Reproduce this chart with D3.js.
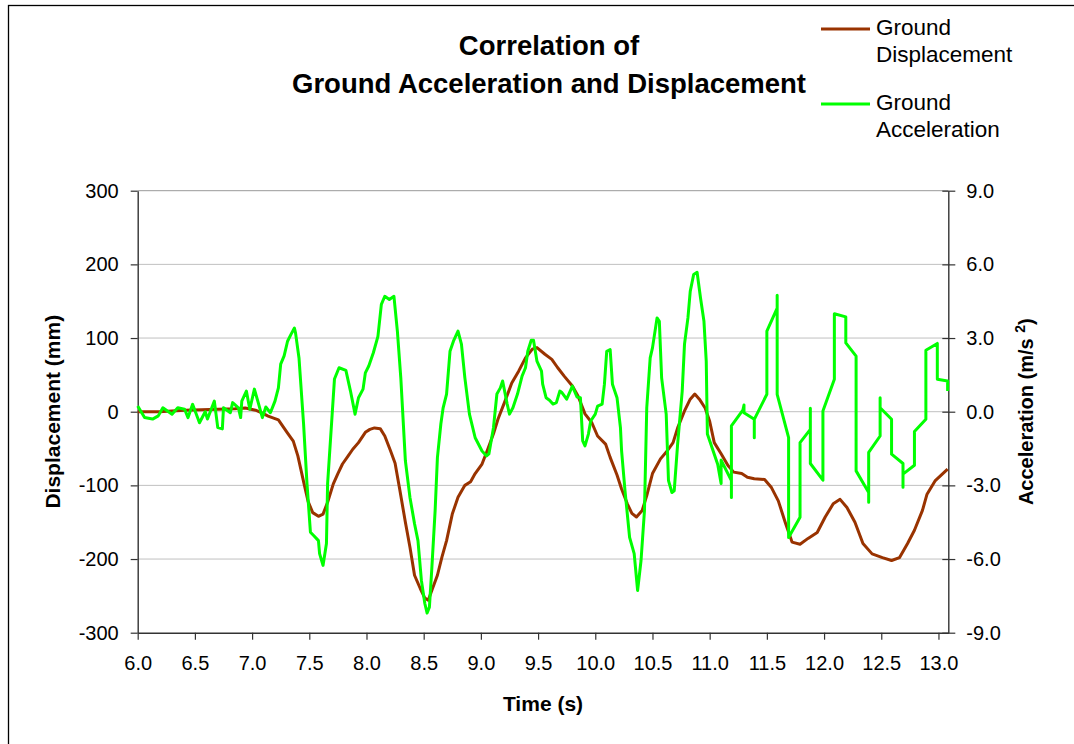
<!DOCTYPE html>
<html>
<head>
<meta charset="utf-8">
<script src="https://cdn.jsdelivr.net/npm/d3@7.9.0/dist/d3.min.js"></script>
<style>
  html, body { margin: 0; padding: 0; background: #fff; }
  svg { display: block; font-family: "Liberation Sans", Arial, sans-serif; }
  .axis text { font-size: 20px; fill: #000; }
</style>
</head>
<body>
<svg id="chart" width="1074" height="744"></svg>
<script>
// Ground displacement (mm)
const dispTime = [6.00,6.19,6.41,6.63,6.85,6.94,7.03,7.09,7.14,7.23,7.31,7.36,7.40,7.45,7.49,7.53,7.58,7.62,7.66,7.71,
  7.75,7.79,7.84,7.88,7.93,7.99,8.03,8.07,8.12,8.16,8.21,8.25,8.29,8.34,8.38,8.42,8.47,8.51,8.54,8.57,
  8.62,8.66,8.70,8.75,8.80,8.86,8.91,8.95,9.01,9.06,9.11,9.15,9.21,9.27,9.33,9.39,9.45,9.49,9.56,9.62,
  9.67,9.73,9.80,9.85,9.91,9.97,10.02,10.09,10.13,10.19,10.23,10.28,10.32,10.36,10.41,10.45,10.50,10.57,10.63,10.68,
  10.72,10.78,10.83,10.87,10.91,10.96,11.00,11.04,11.10,11.16,11.21,11.28,11.33,11.39,11.48,11.54,11.60,11.66,11.72,11.79,
  11.86,11.94,12.01,12.08,12.14,12.20,12.27,12.34,12.42,12.51,12.59,12.66,12.73,12.79,12.86,12.90,12.97,13.08];
const dispMM = [0,0,2,3,4,5,2,-2,-6,-11,-29,-40,-60,-95,-122,-137,-142,-139,-123,-98,
  -84,-71,-60,-51,-42,-28,-24,-22,-23,-33,-53,-70,-105,-150,-184,-222,-240,-253,-256,-243,
  -222,-197,-175,-139,-116,-100,-95,-84,-71,-51,-30,-10,14,39,55,73,85,87,78,71,
  60,48,35,21,-3,-15,-33,-44,-62,-86,-105,-125,-138,-143,-134,-114,-84,-64,-53,-42,
  -22,1,17,24,17,5,-13,-42,-57,-73,-82,-84,-89,-91,-92,-103,-121,-150,-177,-180,
  -172,-164,-143,-125,-119,-130,-150,-179,-193,-198,-202,-198,-179,-161,-134,-112,-94,-78];

// Ground acceleration (m/s2)
const accTime = [6.00,6.06,6.13,6.18,6.22,6.30,6.35,6.41,6.44,6.48,6.54,6.59,6.61,6.67,6.70,6.74,6.75,6.81,6.83,6.88,
  6.90,6.91,6.95,6.98,7.02,7.05,7.09,7.12,7.16,7.20,7.23,7.25,7.28,7.31,7.34,7.37,7.38,7.41,7.45,7.48,
  7.51,7.54,7.58,7.59,7.62,7.65,7.66,7.70,7.72,7.76,7.82,7.86,7.90,7.93,7.97,7.99,8.02,8.06,8.10,8.13,
  8.16,8.20,8.24,8.27,8.30,8.34,8.38,8.42,8.45,8.48,8.51,8.53,8.55,8.57,8.60,8.62,8.65,8.67,8.70,8.73,
  8.76,8.80,8.83,8.86,8.90,8.95,9.01,9.05,9.07,9.11,9.14,9.17,9.19,9.23,9.25,9.28,9.32,9.36,9.39,9.41,
  9.44,9.46,9.49,9.53,9.54,9.57,9.60,9.63,9.66,9.69,9.71,9.75,9.80,9.84,9.87,9.89,9.91,9.94,9.96,10.00,
  10.02,10.06,10.08,10.10,10.13,10.15,10.19,10.22,10.23,10.26,10.30,10.34,10.37,10.40,10.43,10.45,10.48,10.50,10.54,10.56,
  10.58,10.62,10.64,10.67,10.69,10.72,10.76,10.78,10.81,10.83,10.86,10.89,10.92,10.95,10.97,10.98,11.07,11.10,11.10,11.19,
  11.19,11.19,11.29,11.30,11.30,11.39,11.39,11.39,11.50,11.50,11.59,11.59,11.59,11.69,11.69,11.79,11.79,11.88,11.88,11.88,
  11.99,11.99,12.09,12.09,12.19,12.19,12.28,12.28,12.39,12.39,12.39,12.49,12.49,12.49,12.59,12.59,12.69,12.69,12.69,12.79,
  12.79,12.89,12.89,12.99,12.99,13.08,13.08];
const accMS2 = [0.23,-0.24,-0.30,-0.17,0.16,-0.10,0.16,0.10,-0.24,0.30,-0.45,0.00,-0.30,0.43,-0.65,-0.70,0.16,-0.04,0.37,0.16,
  -0.24,0.43,0.84,0.10,0.92,0.43,-0.24,0.19,-0.04,0.43,0.97,1.94,2.27,2.87,3.15,3.41,3.20,2.19,-0.50,-2.94,
  -4.91,-5.05,-5.25,-5.78,-6.26,-5.37,-2.94,-0.10,1.33,1.79,1.68,0.84,-0.10,0.57,0.92,1.58,1.86,2.40,3.07,4.37,
  4.70,4.57,4.70,3.28,1.38,-2.00,-3.49,-4.56,-5.25,-6.87,-7.81,-8.20,-7.96,-6.47,-4.03,-1.87,-0.50,0.16,0.72,2.46,
  2.87,3.28,2.75,1.38,-0.10,-1.06,-1.60,-1.80,-1.72,-0.65,0.72,0.97,1.25,0.31,-0.10,0.16,0.72,1.45,1.79,2.46,
  2.91,2.91,2.06,1.65,1.12,0.57,0.47,0.31,0.37,0.84,0.77,0.51,1.04,0.60,0.57,-1.19,-1.39,-0.91,-0.38,-0.10,
  0.23,0.31,1.12,2.46,2.53,1.12,0.57,-0.65,-1.60,-3.22,-5.12,-5.78,-7.28,-6.06,-4.03,0.16,2.19,2.60,3.82,3.68,
  1.38,-0.10,-2.81,-3.29,-3.22,-1.31,0.84,2.75,3.82,4.90,5.59,5.68,4.63,3.68,2.06,-0.91,-2.14,-2.92,-1.97,-2.81,
  -3.49,-0.58,0.06,0.27,-0.04,-0.31,-1.06,-0.31,0.71,3.28,4.22,4.74,0.71,-1.06,-5.12,-4.30,-1.26,-0.72,0.14,-2.11,
  -2.79,0.03,1.32,3.99,3.86,2.80,2.26,-2.41,-3.29,-3.69,-1.66,-0.99,0.57,0.16,-0.31,-1.73,-2.11,-3.08,-2.54,-2.18,
  -0.81,-0.31,2.50,2.78,1.32,1.25,0.84];

// axis ticks
const timeTicks = d3.range(6, 13.01, 0.5);
const dispTicks = [-300, -200, -100, 0, 100, 200, 300];
const accTicks = [-9, -6, -3, 0, 3, 6, 9];

const seriesNames = ["Ground Displacement", "Ground Acceleration"];
const colors = ["#993300", "#00ff00"];

const svg = d3.select('#chart');

// plot area
const plotLeft = 137.7, plotRight = 948.3, plotTop = 190.7, plotBottom = 632.7;

const x = d3.scaleLinear().domain([6, 13.086]).range([plotLeft, plotRight]);
const yL = d3.scaleLinear().domain([-300, 300]).range([plotBottom, plotTop]);
const yR = d3.scaleLinear().domain([-9, 9]).range([plotBottom, plotTop]);

// plain hyphen for negatives, like the original
const hyphen = f => d => f(d).replace('\u2212', '-');

// outer chart frame
svg.append('rect')
  .attr('x', 8.5).attr('y', 5.5)
  .attr('width', 1200).attr('height', 900)
  .attr('fill', 'none').attr('stroke', '#000').attr('stroke-width', 1.3);

// gridlines
svg.append('g')
  .selectAll('line')
  .data(dispTicks.filter(d => d > -300))
  .join('line')
  .attr('x1', plotLeft).attr('x2', plotRight)
  .attr('y1', d => yL(d)).attr('y2', d => yL(d))
  .attr('stroke', d => d === 300 ? '#999' : '#c0c0c0')
  .attr('stroke-width', 1);

// axes
let xAxis = svg.append('g')
  .attr('class', 'axis')
  .attr('transform', `translate(0,${plotBottom})`)
  .call(d3.axisBottom(x).tickValues(timeTicks).tickFormat(d3.format('.1f')).tickSizeOuter(0).tickSizeInner(7).tickPadding(16));

let yAxisL = svg.append('g')
  .attr('class', 'axis')
  .attr('transform', `translate(${plotLeft},0)`)
  .call(d3.axisLeft(yL).tickValues(dispTicks).tickFormat(hyphen(d3.format('d'))).tickSizeOuter(0).tickSizeInner(7).tickPadding(12));

let yAxisR = svg.append('g')
  .attr('class', 'axis')
  .attr('transform', `translate(${plotRight},0)`)
  .call(d3.axisRight(yR).tickValues(accTicks).tickFormat(hyphen(d3.format('.1f'))).tickSizeOuter(0).tickSizeInner(7).tickPadding(11));

// right axis ticks cross the line
yAxisR.selectAll('.tick line').attr('x1', -6);

[xAxis, yAxisL, yAxisR].forEach(a => {
  a.select('.domain').attr('stroke', '#333').attr('stroke-width', 1.4);
  a.selectAll('.tick line').attr('stroke', '#333').attr('stroke-width', 1.2);
  a.selectAll('text').attr('font-family', '"Liberation Sans", Arial, sans-serif').attr('font-size', 20.5);
});

// lines
const lineL = d3.line().x(d => x(d[0])).y(d => yL(d[1]));
const lineR = d3.line().x(d => x(d[0])).y(d => yR(d[1]));

svg.append('path')
  .datum(d3.zip(dispTime, dispMM))
  .attr('d', lineL)
  .attr('fill', 'none')
  .attr('stroke', colors[0])
  .attr('stroke-width', 3)
  .attr('stroke-linejoin', 'round');

svg.append('path')
  .datum(d3.zip(accTime, accMS2))
  .attr('d', lineR)
  .attr('fill', 'none')
  .attr('stroke', colors[1])
  .attr('stroke-width', 3)
  .attr('stroke-linejoin', 'round');

// title
const title = svg.append('text')
  .attr('text-anchor', 'middle')
  .attr('font-weight', 'bold')
  .attr('font-size', 27.5);
title.append('tspan').attr('x', 549).attr('y', 55).text('Correlation of');
title.append('tspan').attr('x', 549).attr('y', 93).text('Ground Acceleration and Displacement');

// axis titles
svg.append('text')
  .attr('x', (plotLeft + plotRight) / 2).attr('y', 711)
  .attr('text-anchor', 'middle').attr('font-weight', 'bold').attr('font-size', 21)
  .text('Time (s)');

svg.append('text')
  .attr('transform', `translate(60,${(plotTop + plotBottom) / 2}) rotate(-90)`)
  .attr('text-anchor', 'middle').attr('font-weight', 'bold').attr('font-size', 21)
  .text('Displacement (mm)');

let accTitle = svg.append('text')
  .attr('transform', `translate(1033,${(plotTop + plotBottom) / 2}) rotate(-90)`)
  .attr('text-anchor', 'middle').attr('font-weight', 'bold').attr('font-size', 20);
accTitle.append('tspan').text('Acceleration (m/s  ');
accTitle.append('tspan').attr('font-size', 14).attr('dy', -8).text('2');
accTitle.append('tspan').attr('dy', 8).text(')');

// legend
seriesNames.forEach((name, i) => {
  const y0 = 29 + i * 75;
  svg.append('line')
    .attr('x1', 821).attr('x2', 870)
    .attr('y1', y0).attr('y2', y0)
    .attr('stroke', colors[i]).attr('stroke-width', 3);
  const words = name.split(' ');
  const t = svg.append('text').attr('font-size', 22.5);
  words.forEach((w, j) => {
    t.append('tspan').attr('x', 876).attr('y', y0 + 6 + j * 27).text(w);
  });
});
</script>
</body>
</html>
